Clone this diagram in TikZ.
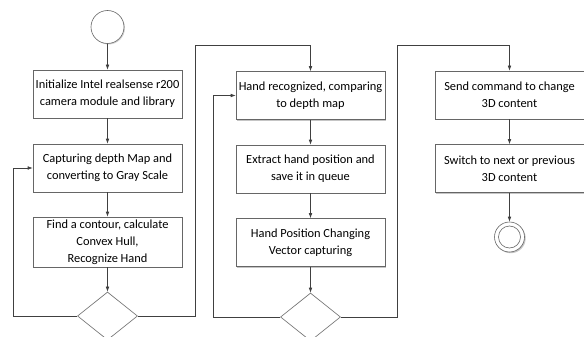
\documentclass[tikz,border=0pt]{standalone}
\usepackage{fontspec}
\setmainfont{Carlito}
\usetikzlibrary{arrows.meta,shadows,shapes.geometric}
\begin{document}
\begin{tikzpicture}[x=1pt,y=-1pt,
  every node/.style={font=\fontsize{12.4}{17}\selectfont, text=black},
  stepbox/.style={draw=black!60, line width=0.6pt, fill=white, rectangle,
    minimum width=149pt, minimum height=48pt, inner sep=0pt, align=center,
    drop shadow={shadow xshift=1.2pt, shadow yshift=-1.2pt, fill=black!50, opacity=0.45}},
  decision/.style={draw=black!60, line width=0.6pt, fill=white, diamond,
    minimum width=60pt, minimum height=48pt, inner sep=0pt, aspect=1.25},
  flow/.style={draw=black!75, line width=0.6pt, -{Latex[length=5pt,width=3.6pt]}},
  link/.style={draw=black!60, line width=0.6pt}
]
\clip (0,0) rectangle (584,337);
\fill[white] (0,0) rectangle (584,337);

% column 1
\node[draw=black!60, line width=0.6pt, fill=white, circle, minimum size=33pt, inner sep=0pt,
  drop shadow={shadow xshift=1pt, shadow yshift=-1pt, fill=black!50, opacity=0.35}] (start) at (107.5,27) {};
\node[stepbox] (b1) at (107.5,94) {Initialize Intel realsense r200\\camera module and library};
\node[stepbox] (b2) at (107.5,168) {Capturing depth Map and\\converting to Gray Scale};
\node[stepbox, minimum height=50pt] (b3) at (107.5,242) {Find a contour, calculate\\Convex Hull,\\Recognize Hand};
\node[decision] (d1) at (107.5,316) {};

% column 2
\node[stepbox] (b4) at (310.5,95.5) {Hand recognized, comparing\\to depth map};
\node[stepbox] (b5) at (310.5,169) {Extract hand position and\\save it in queue};
\node[stepbox] (b6) at (310.5,242.5) {Hand Position Changing\\Vector capturing};
\node[decision] (d2) at (310.5,317) {};

% column 3
\node[stepbox] (b7) at (509.5,95) {Send command to change\\3D content};
\node[stepbox] (b8) at (509.5,168.5) {Switch to next or previous\\3D content};
\node[draw=black!60, line width=0.6pt, fill=white, circle, minimum size=30pt, inner sep=0pt,
  drop shadow={shadow xshift=1.2pt, shadow yshift=-1.2pt, fill=black!50, opacity=0.45}] (end) at (509.5,237) {};
\draw[black!60, line width=0.6pt] (end.center) circle (11);

\coordinate (l1) at (13,0);
\coordinate (r1) at (195,45);
\coordinate (l2) at (213,0);
\coordinate (r2) at (397,45);

% arrows
\draw[flow] (start) -- (b1);
\draw[flow] (b1) -- (b2);
\draw[flow] (b2) -- (b3);
\draw[flow] (b3) -- (d1);
\draw[flow] (b4) -- (b5);
\draw[flow] (b5) -- (b6);
\draw[flow] (b6) -- (d2);
\draw[flow] (b7) -- (b8);
\draw[flow] (b8) -- (end);

% loops
\draw[flow] (d1.west) -- (d1.west -| l1) -- (l1 |- b2.west) -- (b2.west);
\draw[flow] (d1.east) -- (d1.east -| r1) -- (r1) -- (r1 -| b4.north) -- (b4.north);
\draw[flow] (d2.west) -- (d2.west -| l2) -- (l2 |- b4.west) -- (b4.west);
\draw[flow] (d2.east) -- (d2.east -| r2) -- (r2) -- (r2 -| b7.north) -- (b7.north);
\end{tikzpicture}
\end{document}
